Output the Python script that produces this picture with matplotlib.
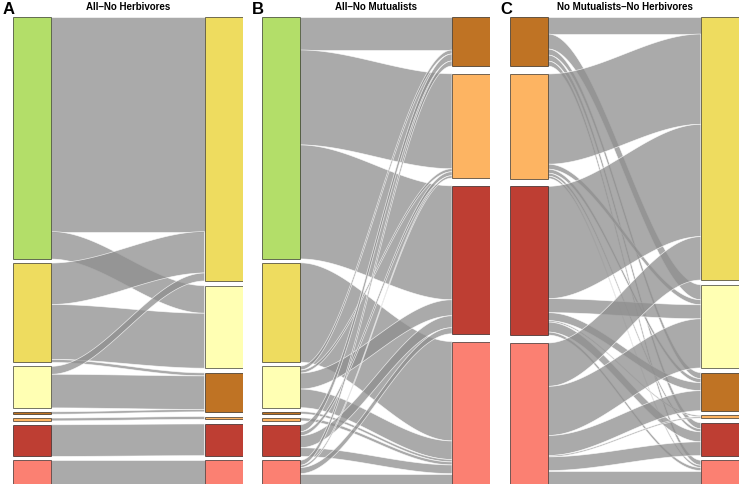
import numpy as np
import matplotlib.pyplot as plt
from matplotlib.patches import Rectangle, Polygon

plt.rcParams['font.family'] = ['Liberation Sans', 'DejaVu Sans']

# block colours per group
group_colors = {
    "green": "#B3DE69",
    "yellow": "#EEDC5F",
    "pale": "#FFFFB3",
    "brown": "#BF7324",
    "orange": "#FDB462",
    "red": "#BE3E33",
    "salmon": "#FB8072",
}

# panel A: All -> No Herbivores (rows = left groups, cols = right groups)
a_left = ["green", "yellow", "pale", "brown", "orange", "red", "salmon"]
a_right = ["yellow", "pale", "brown", "orange", "red", "salmon"]
a_flows = [
    [214.7, 27.6, 0.0, 0.0, 0.0, 0.0],
    [41.5, 55.0, 3.0, 0.0, 0.0, 0.0],
    [8.0, 0.0, 33.6, 0.0, 0.0, 0.0],
    [0.0, 0.0, 2.4, 0.0, 0.0, 0.0],
    [0.0, 0.0, 0.0, 2.8, 0.0, 0.0],
    [0.0, 0.0, 0.0, 0.0, 31.7, 0.0],
    [0.0, 0.0, 0.0, 0.0, 0.0, 23.7],
]

# panel B: All -> No Mutualists
b_left = ["green", "yellow", "pale", "brown", "orange", "red", "salmon"]
b_right = ["brown", "orange", "red", "salmon"]
b_flows = [
    [33.0, 95.0, 114.0, 0.0],
    [0.0, 0.0, 0.0, 99.4],
    [4.0, 3.0, 16.0, 18.6],
    [0.0, 0.0, 0.0, 2.4],
    [0.0, 0.0, 0.0, 3.0],
    [7.0, 4.0, 12.0, 8.7],
    [5.0, 2.3, 6.0, 10.4],
]

# panel C: No Mutualists -> No Herbivores
c_left = ["brown", "orange", "red", "salmon"]
c_right = ["yellow", "pale", "brown", "orange", "red", "salmon"]
c_flows = [
    [17.0, 15.0, 6.0, 0.0, 6.0, 5.0],
    [90.0, 5.0, 4.0, 0.0, 3.0, 2.3],
    [112.0, 14.0, 8.0, 1.4, 10.0, 3.0],
    [43.3, 49.0, 20.0, 1.3, 13.7, 13.4],
]

titles = ["All\u2013No Herbivores", "All\u2013No Mutualists", "No Mutualists\u2013No Herbivores"]
letters = ["A", "B", "C"]


def stack_tops(sums, w):
    n = (sums > 0).sum()
    g = w / max(n - 1, 1)
    tops = np.zeros(len(sums))
    y = 0.0
    for k, s in enumerate(sums):
        tops[k] = y
        if s > 0:
            y += s + g
    return tops


def alluvial(ax, left, right, flows, w=0.05, cw=0.1):
    F = np.array(flows, float)
    F = F / F.sum() * (1 - w)
    lsum = F.sum(axis=1)
    rsum = F.sum(axis=0)
    lt = stack_tops(lsum, w)
    rt = stack_tops(rsum, w)
    ly = np.zeros_like(F)
    ry = np.zeros_like(F)
    for i in range(F.shape[0]):
        ly[i] = lt[i] + np.concatenate([[0], np.cumsum(F[i])[:-1]])
    for j in range(F.shape[1]):
        ry[:, j] = rt[j] + np.concatenate([[0], np.cumsum(F[:, j])[:-1]])

    t = np.linspace(0, 1, 80)
    s = t * t * (3 - 2 * t)
    x = 1 + cw + t * (1 - 2 * cw)
    for i in range(F.shape[0]):
        for j in range(F.shape[1]):
            if F[i, j] <= 0:
                continue
            top = ly[i, j] + (ry[i, j] - ly[i, j]) * s
            bot = top + F[i, j]
            pts = np.concatenate([np.c_[x, top], np.c_[x[::-1], bot[::-1]]])
            ax.add_patch(Polygon(pts, closed=True, facecolor=(0.56, 0.56, 0.56),
                                 alpha=0.76, edgecolor="white", linewidth=0.5))

    for k, g in enumerate(left):
        if lsum[k] > 0:
            ax.add_patch(Rectangle((1 - cw, lt[k]), 2 * cw, lsum[k], facecolor=group_colors[g],
                                   edgecolor=(0, 0, 0, 0.55), linewidth=0.7))
    for k, g in enumerate(right):
        if rsum[k] > 0:
            ax.add_patch(Rectangle((2 - cw, rt[k]), 2 * cw, rsum[k], facecolor=group_colors[g],
                                   edgecolor=(0, 0, 0, 0.55), linewidth=0.7))
    ax.set_xlim(1 - cw, 2 + cw)
    ax.set_ylim(1, 0)
    ax.axis("off")


W, H = 741, 486
fig = plt.figure(figsize=(W / 100, H / 100), dpi=100)
panels = [(a_left, a_right, a_flows), (b_left, b_right, b_flows), (c_left, c_right, c_flows)]
x0s = [13, 262, 510]
widths = [230, 228, 229]
for k, (l, r, f) in enumerate(panels):
    ax = fig.add_axes([x0s[k] / W, 2 / H, widths[k] / W, 467 / H])
    alluvial(ax, l, r, f)
    fig.text((x0s[k] + widths[k] / 2) / W, 1 - 7 / H, titles[k], ha="center", va="center",
             fontsize=7, fontweight="bold")
    fig.text((x0s[k] - 10) / W, 1 - 10 / H, letters[k], ha="left", va="center",
             fontsize=12, fontweight="bold")

fig.savefig("out.png", dpi=100)
